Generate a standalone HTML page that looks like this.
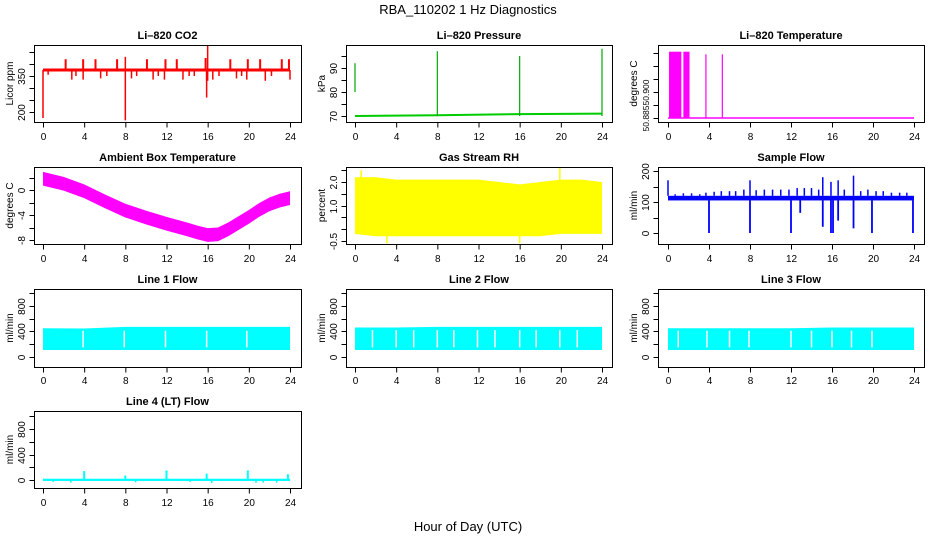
<!DOCTYPE html>
<html><head><meta charset="utf-8"><style>
html,body{margin:0;padding:0;background:#fff;}
svg{display:block;font-family:"Liberation Sans",Arial,sans-serif;}
</style></head><body>
<svg id="chart" width="936" height="540" viewBox="0 0 936 540">
<text x="468" y="14" text-anchor="middle" font-size="13">RBA_110202  1 Hz Diagnostics</text>
<text x="468" y="531" text-anchor="middle" font-size="13">Hour of Day (UTC)</text>
</svg>
<script>
const hours=[0,4,8,12,16,20,24];
// CO2
const co2Base=375;
const co2UpH=[2.2,3.9,5.1,7.2,10.1,11.9,13.0,15.8,18.2,19.9,21.1,23.2,23.9];
const co2UpV=[420,420,420,420,420,420,420,425,420,420,420,420,420];
const co2DnH=[0.5,2.8,3.2,3.9,5.6,6.2,8.6,9.1,10.7,11.2,11.8,13.6,14.2,14.7,15.9,16.5,17.1,18.8,19.3,19.8,21.6,22.2,24];
const co2DnV=[355,335,350,335,340,350,340,350,335,350,335,335,350,350,330,335,350,340,350,335,330,350,335];
const co2BigH=[0.0,8.0,8.0,15.9,16.0,16.0];
const co2BigV=[175,165,430,260,475,330];
// Pressure
const presSegH=[0,8,16,24];
const presSegV=[70,70.3,70.8,71];
const presSpkH=[0,8,16,24];
const presSpkLo=[80,70,70,70];
const presSpkHi=[92,97,95,98];
// Li-820 temperature
const ltBarH0=[0.1,1.5];
const ltBarH1=[1.3,2.1];
const ltTop=50.9105;
const ltLineH=[3.7,5.3];
const ltLineV=[50.9095,50.9095];
const ltBase=50.885;
// Ambient
const ambH=[0,2,4,6,8,10,12,14,15,16,17,18,19,20,21,22,23,24];
const ambV=[1.8,1.0,-0.2,-1.8,-3.3,-4.4,-5.4,-6.3,-6.8,-7.2,-7.1,-6.3,-5.3,-4.3,-3.2,-2.3,-1.7,-1.3];
const ambHalf=1.1;
// RH
const rhH=[0,2,4,6,8,10,12,14,16,18,20,22,24];
const rhMax=[2.2,2.2,2.1,2.1,2.1,2.1,2.1,2.0,1.9,2.0,2.1,2.1,2.0];
const rhMin=[-0.2,-0.3,-0.3,-0.3,-0.3,-0.3,-0.3,-0.3,-0.3,-0.3,-0.2,-0.2,-0.2];
const rhSpkH=[0.6,3.1,16.0,19.9];
const rhSpkV=[2.5,-0.6,-0.6,2.6];
// Sample flow
const sfLo=105, sfHi=120;
const sfUpH=[0.0,0.7,1.5,2.3,3.1,3.7,4.5,5.2,6.0,6.6,7.4,8.0,8.6,9.4,10.2,11.0,11.8,12.6,13.3,14.0,14.7,15.1,15.9,16.6,17.2,18.1,18.8,19.5,20.3,21.0,21.8,22.6,23.3];
const sfUpV=[170,125,128,128,125,130,133,135,135,135,140,170,138,140,140,140,140,145,145,145,140,180,165,170,140,185,135,140,135,135,130,130,130];
const sfDnH=[4.0,8.0,12.0,12.9,15.1,15.9,16.1,16.6,18.1,19.9,23.9];
const sfDnV=[0,0,0,65,20,0,0,40,15,0,0];
// Line flows
const l1Top=[450,445,470,470,470,470,470];
const l1Gap=[3.9,7.9,11.9,15.9,19.8];
const l2Top=[460,460,470,470,470,470,470];
const l2Gap=[1.7,4,5.7,8,9.6,11.9,13.6,16,17.6,19.9,21.6];
const l3Top=[450,450,450,450,460,460,460];
const l3Gap=[1.0,3.8,6.0,7.9,12,14,16,17.9,19.9];
const flowLo=110;
const l4SpkH=[4.0,8.0,12.0,15.9,19.9,23.8];
const l4SpkV=[140,70,150,100,150,90];
const l4DnH=[1.0,2.7,9.0,14.3,16.4,20.7,21.4,22.7];
const l4DnV=[-30,-40,-35,-30,-45,-45,-40,-40];

const NS='http://www.w3.org/2000/svg';
const svg=document.getElementById('chart');
function el(tag,attrs,parent){const e=document.createElementNS(NS,tag);for(const k in attrs)e.setAttribute(k,attrs[k]);(parent||svg).appendChild(e);return e;}
const cols=[{bx:34,bw:267,x0:43,x24:290},{bx:346,bw:266,x0:355,x24:602},{bx:658,bw:266,x0:668,x24:914}];
const rows=[{by:45,bh:77,title:35,tick:135},{by:167,bh:77,title:157,tick:257},{by:289,bh:78,title:279,tick:379},{by:411,bh:77,title:401,tick:501}];

function panel(c,r,title,ylab,vA,yA,vB,yB,ticks,labels,name,tfs){
  const C=cols[c],R=rows[r];
  const g=el('g',{});
  
  
  const xs=h=>C.x0+h*(C.x24-C.x0)/24;
  const ys=v=>yA+(v-vA)*(yB-yA)/(vB-vA);
  const t=el('text',{x:(C.bx+C.bw/2),y:R.title+4,'text-anchor':'middle','font-size':'11','font-weight':'bold'},g);
  t.textContent=title;
  
  
  const marks=el('g',{},g);
  
  
  const ax=el('g',{stroke:'#000','stroke-width':'1',fill:'none'},g);
  el('rect',{x:C.bx+.5,y:R.by+.5,width:C.bw,height:R.bh},ax);
  const ay=R.by+R.bh+.5;
  hours.forEach(h=>{el('line',{x1:xs(h)+.5,x2:xs(h)+.5,y1:ay,y2:ay+5},ax);
    const tt=el('text',{x:xs(h)+.5,y:R.tick+5,'text-anchor':'middle','font-size':'10',fill:'#000',stroke:'none'},g);tt.textContent=h;
    
    });
  const lx=C.bx+.5;
  ticks.forEach((v,i)=>{const y=Math.round(ys(v))+.5;el('line',{x1:lx,x2:lx-5,y1:y,y2:y},ax);
    if(labels[i]){const tt=el('text',{x:0,y:0,transform:`translate(${C.bx-9},${y}) rotate(-90)`,'text-anchor':'middle','font-size':tfs||'10',fill:'#000',stroke:'none'},g);tt.textContent=labels[i];
    
    }});
  const yt=el('text',{x:0,y:0,transform:`translate(${C.bx-21},${R.by+R.bh/2}) rotate(-90)`,'text-anchor':'middle','font-size':'10'},g);
  yt.textContent=ylab;
  
  
  return {xs,ys,g:marks};
}
function vline(p,x,y1,y2,col,w){el('line',{x1:x,x2:x,y1:y1,y2:y2,stroke:col,'stroke-width':w||1.5},p.g);}
function band(p,H,top,bot,col){let d='M'+H.map((h,i)=>p.xs(h)+','+p.ys(top[i])).join('L');for(let i=H.length-1;i>=0;i--)d+='L'+p.xs(H[i])+','+p.ys(bot[i]);el('path',{d:d+'Z',fill:col},p.g);}

// CO2
let p=panel(0,0,'Li\u2013820 CO2','Licor ppm',350,76,200,112,[200,250,300,350,400,450],['200','','','350','',''],'co2-panel');
el('rect',{x:p.xs(0),y:p.ys(co2Base)-1.5,width:p.xs(24)-p.xs(0),height:3,fill:'#f00'},p.g);
co2UpH.forEach((h,i)=>vline(p,p.xs(h),p.ys(co2Base),p.ys(co2UpV[i]),'#f00',2));
co2DnH.forEach((h,i)=>vline(p,p.xs(h),p.ys(co2Base),p.ys(co2DnV[i]),'#f00',1.5));
co2BigH.forEach((h,i)=>vline(p,p.xs(h),p.ys(co2Base),p.ys(co2BigV[i]),'#f00',1.5));
// Pressure
p=panel(1,0,'Li\u2013820 Pressure','kPa',70,116,90,68,[70,75,80,85,90,95],['70','','80','','90',''],'pressure-panel');
el('polyline',{points:presSegH.map((h,i)=>p.xs(h)+','+p.ys(presSegV[i])).join(' '),fill:'none',stroke:'#0c0','stroke-width':2},p.g);
presSpkH.forEach((h,i)=>vline(p,p.xs(h),p.ys(presSpkLo[i]),p.ys(presSpkHi[i]),'#0a0',1.2));
// Li temp
p=panel(2,0,'Li\u2013820 Temperature','degrees C',50.885,118,50.900,79,[50.885,50.890,50.895,50.900,50.905,50.910],['50.885','','50.900','','',''],'li-temp-panel','8.5');
ltBarH0.forEach((h,i)=>el('rect',{x:p.xs(h),y:p.ys(ltTop),width:p.xs(ltBarH1[i])-p.xs(h),height:p.ys(ltBase)-p.ys(ltTop),fill:'#f0f'},p.g));
ltLineH.forEach((h,i)=>vline(p,p.xs(h),p.ys(ltBase),p.ys(ltLineV[i]),'#f0f',1.2));
el('line',{x1:p.xs(0),x2:p.xs(24),y1:p.ys(ltBase),y2:p.ys(ltBase),stroke:'#f0f','stroke-width':1.5},p.g);
// Ambient
p=panel(0,1,'Ambient Box Temperature','degrees C',0,190,-8,240,[2,0,-2,-4,-6,-8],['','0','','-4','','-8'],'ambient-temp-panel');
band(p,ambH,ambV.map(v=>v+ambHalf),ambV.map(v=>v-ambHalf),'#f0f');
// RH
p=panel(1,1,'Gas Stream RH','percent',-0.5,241,2.0,182,[-0.5,0,0.5,1,1.5,2,2.5],['-0.5','','','1.0','','2.0',''],'rh-panel');
band(p,rhH,rhMax,rhMin,'#ff0');
rhSpkH.forEach((h,i)=>vline(p,p.xs(h),p.ys(1),p.ys(rhSpkV[i]),'#ff0',1.5));
// Sample flow
p=panel(2,1,'Sample Flow','ml/min',0,233,200,171,[0,50,100,150,200],['0','','100','','200'],'sample-flow-panel');
el('rect',{x:p.xs(0),y:p.ys(sfHi),width:p.xs(24)-p.xs(0),height:p.ys(sfLo)-p.ys(sfHi),fill:'#00f'},p.g);
sfUpH.forEach((h,i)=>vline(p,p.xs(h),p.ys(sfHi),p.ys(sfUpV[i]),'#00f',1.5));
sfDnH.forEach((h,i)=>vline(p,p.xs(h),p.ys(sfLo),p.ys(sfDnV[i]),'#00f',1.8));
// Line flows
function flow(c,r,title,tops,gaps,name){
  const q=panel(c,r,title,'ml/min',0,357,1000,293,[0,200,400,600,800,1000],['0','','400','','800',''],name);
  band(q,hours,tops,hours.map(()=>flowLo),'#0ff');
  gaps.forEach(h=>vline(q,q.xs(h),q.ys(flowLo+40),q.ys(tops[0]-40),'#fff',1.5));
}
flow(0,2,'Line 1 Flow',l1Top,l1Gap,'line1-flow-panel');
flow(1,2,'Line 2 Flow',l2Top,l2Gap,'line2-flow-panel');
flow(2,2,'Line 3 Flow',l3Top,l3Gap,'line3-flow-panel');
p=panel(0,3,'Line 4 (LT) Flow','ml/min',0,480,800,429,[0,200,400,600,800,1000],['0','','400','','800',''],'line4-flow-panel');
el('rect',{x:p.xs(0),y:p.ys(20),width:p.xs(24)-p.xs(0),height:p.ys(-15)-p.ys(20),fill:'#0ff'},p.g);
l4SpkH.forEach((h,i)=>vline(p,p.xs(h),p.ys(0),p.ys(l4SpkV[i]),'#0ff',2));
l4DnH.forEach((h,i)=>vline(p,p.xs(h),p.ys(0),p.ys(l4DnV[i]),'#0ff',1.5));
</script>
</body></html>
